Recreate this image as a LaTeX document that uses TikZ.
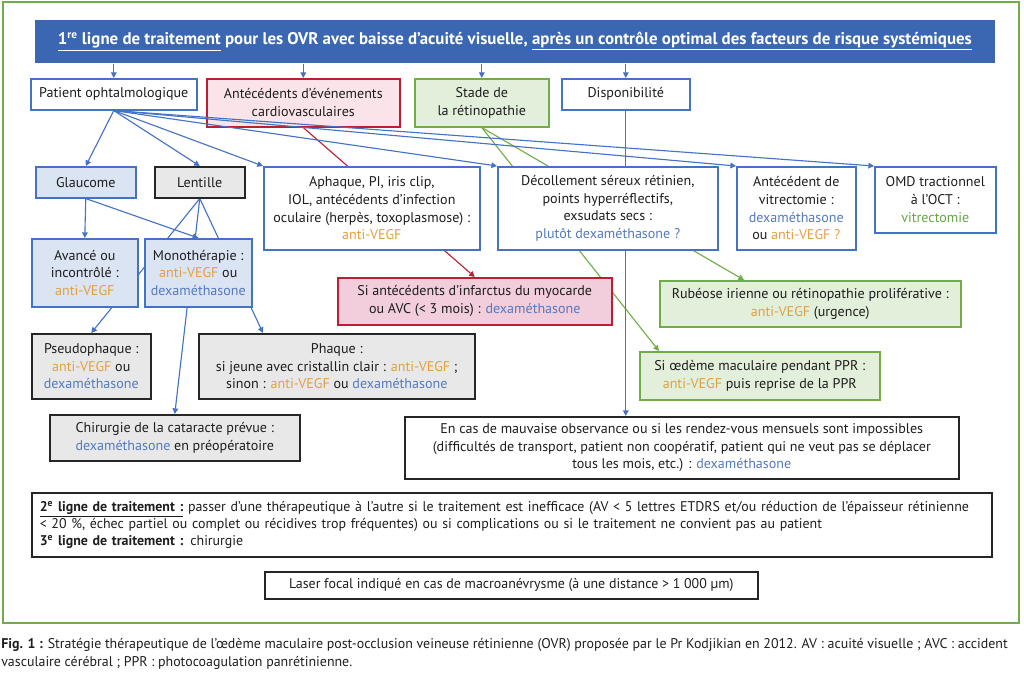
\documentclass[tikz,border=0pt]{standalone}
\usepackage{fontspec}
\setmainfont{PT Sans}
\newfontfamily\narrowfont[FakeStretch=0.99]{PT Sans}
\usetikzlibrary{arrows.meta,backgrounds}

\definecolor{bandblue}{RGB}{59,103,178}
\definecolor{lineblue}{RGB}{68,114,196}
\definecolor{txtblue}{RGB}{84,122,192}
\definecolor{txtorange}{RGB}{228,160,62}
\definecolor{txtgreen}{RGB}{104,165,70}
\definecolor{txtdark}{RGB}{30,30,30}
\definecolor{linered}{RGB}{190,30,50}
\definecolor{linegreen}{RGB}{112,173,71}
\definecolor{fillgreen}{RGB}{226,239,218}
\definecolor{fillblue}{RGB}{219,228,243}
\definecolor{fillgrey}{RGB}{232,232,232}
\definecolor{fillpink}{RGB}{250,228,234}
\definecolor{fillrose}{RGB}{242,205,219}

\newcommand{\pxu}{0.025cm}
\newcommand{\txo}[1]{\textcolor{txtorange}{#1}}
\newcommand{\txb}[1]{\textcolor{txtblue}{#1}}
\newcommand{\txg}[1]{\textcolor{txtgreen}{#1}}

\tikzset{
  wh/.style 2 args={minimum width=#1*\pxu, minimum height=#2*\pxu},
  basebox/.style={draw, line width=1.1pt, anchor=north west, align=center,
    inner sep=1pt, text=txtdark, font=\fontsize{10}{12.6}\selectfont},
  bluebox/.style={basebox, draw=lineblue, fill=white},
  lbluebox/.style={basebox, draw=lineblue, fill=fillblue},
  greybox/.style={basebox, draw=black!85, fill=fillgrey},
  redbox/.style={basebox, draw=linered, fill=fillpink},
  greenbox/.style={basebox, draw=linegreen, fill=fillgreen},
  bl/.style={draw=lineblue, line width=0.8pt, -{Triangle[length=4pt,width=4pt]}},
  rl/.style={draw=linered, line width=0.8pt, -{Triangle[length=4pt,width=4pt]}},
  gl/.style={draw=linegreen, line width=0.8pt, -{Triangle[length=4pt,width=4pt]}},
}

\begin{document}
\begin{tikzpicture}[x=0.025cm,y=-0.025cm]
    \useasboundingbox (0,0) rectangle (1024,678);
    %% outer frame
    \draw[linegreen, line width=2pt] (3,2) rectangle (1019,623);
    %% title band
    \node[basebox, draw=none, fill=bandblue, text=white, wh={960}{43},
        font=\fontsize{12}{14}\selectfont\bfseries] (banner) at (34,19)
        {\underline{1\textsuperscript{re} ligne de traitement} pour les OVR avec baisse d’acuité visuelle, \underline{après un contrôle optimal des facteurs de risque systémiques}};
    %% first row
    \node[bluebox, wh={166}{31}] (patient) at (30,78) {Patient ophtalmologique};
    \node[redbox, wh={193}{48}] (cardio) at (206,78) {Antécédents d’événements\\cardiovasculaires};
    \node[greenbox, wh={134}{48}] (stade) at (414,78) {Stade de\\la rétinopathie};
    \node[bluebox, wh={128}{31}] (dispo) at (561,78) {Disponibilité};
    \foreach \n in {patient,cardio,stade,dispo}
        \draw[bl] (\n.north |- banner.south) -- (\n.north);
    %% second row
    \node[lbluebox, wh={100}{31}] (glaucome) at (35,166) {Glaucome};
    \node[greybox, wh={90}{31}] (lentille) at (154,166) {Lentille};
    \node[bluebox, wh={216}{83}] (aphaque) at (263,166)
        {Aphaque, PI, iris clip,\\IOL, antécédents d’infection\\oculaire (herpès, toxoplasmose) :\\\txo{anti-VEGF}};
    \node[bluebox, wh={220}{83}] (deco) at (497,166)
        {Décollement séreux rétinien,\\points hyperréflectifs,\\exsudats secs :\\\txb{plutôt dexaméthasone ?}};
    \node[bluebox, wh={119}{83}] (vitrec) at (736,166)
        {Antécédent de\\vitrectomie :\\\txb{dexaméthasone}\\ou \txo{anti-VEGF ?}};
    \node[bluebox, wh={121}{66}] (omd) at (874,166) {OMD tractionnel\\à l’OCT :\\\txg{vitrectomie}};
    %% third row
    \node[lbluebox, wh={106}{68}] (avance) at (31,238) {Avancé ou\\incontrôlé :\\\txo{anti-VEGF}};
    \node[lbluebox, wh={107}{68}] (mono) at (144,238) {Monothérapie :\\\txo{anti-VEGF} ou\\\txb{dexaméthasone}};
    \node[redbox, fill=fillrose, wh={274}{47}] (infarct) at (337,277)
        {Si antécédents d’infarctus du myocarde\\ou AVC (< 3 mois) : \txb{dexaméthasone}};
    \node[greenbox, wh={301}{46}] (rubeose) at (659,280)
        {Rubéose irienne ou rétinopathie proliférative :\\\txo{anti-VEGF} (urgence)};
    %% fourth row
    \node[greybox, wh={119}{65}] (pseudo) at (31,333) {Pseudophaque :\\\txo{anti-VEGF} ou\\\txb{dexaméthasone}};
    \node[greybox, wh={276}{65}] (phaque) at (198,333)
        {Phaque :\\si jeune avec cristallin clair : \txo{anti-VEGF} ;\\sinon : \txo{anti-VEGF} ou \txb{dexaméthasone}};
    \node[greenbox, wh={240}{48}] (oedeme) at (639,351)
        {Si œdème maculaire pendant PPR :\\\txo{anti-VEGF} puis reprise de la PPR};
    \node[greybox, wh={250}{46}] (chir) at (49,414)
        {Chirurgie de la cataracte prévue :\\\txb{dexaméthasone} en préopératoire};
    \node[basebox, draw=black!85, fill=white, wh={554}{62}] (encas) at (404,416)
        {En cas de mauvaise observance ou si les rendez-vous mensuels sont impossibles\\(difficultés de transport, patient non coopératif, patient qui ne veut pas se déplacer\\tous les mois, etc.) : \txb{dexaméthasone}};
    %% lines going behind the boxes
    \begin{scope}[on background layer]
        \draw[rl] (cardio.south) -- (infarct.north);
        \draw[gl] (stade.south) -- ([xshift=20*\pxu]oedeme.north west);
        \draw[gl] (stade.south) -- ([xshift=85*\pxu]rubeose.north west);
        \draw[bl] (dispo.south) -- (dispo.south |- encas.north);
        \draw[bl] (lentille.south) -- (pseudo.north);
        \draw[bl] (lentille.south) -- (chir.north);
        \draw[bl] (lentille.south) -- ([xshift=65*\pxu]phaque.north west);
    \end{scope}
    %% lines from the patient box
    \foreach \t/\a in {glaucome/north,lentille/north,aphaque/north west,deco/north west,vitrec/north west,omd/north west}
        \draw[bl] (patient.south) -- (\t.\a);
    \draw[bl] (glaucome.south) -- (avance.north);
    \draw[bl] (glaucome.south) -- (mono.north);
    %% second and third line
    \node[basebox, draw=black!85, fill=white, wh={960}{64}, align=left,
        text width=944*\pxu, inner xsep=8*\pxu,
        font=\narrowfont\fontsize{10}{12.1}\selectfont] (ligne2) at (31,492)
        {\textbf{\underline{2\textsuperscript{e} ligne de traitement :}} passer d’une thérapeutique à l’autre si le traitement est inefficace (AV < 5 lettres ETDRS et/ou réduction de l’épaisseur rétinienne\\
        < 20~\%, échec partiel ou complet ou récidives trop fréquentes) ou si complications ou si le traitement ne convient pas au patient\\
        \textbf{3\textsuperscript{e} ligne de traitement :} chirurgie};
    \node[basebox, draw=black!85, fill=white, wh={493}{27},
        font=\narrowfont\fontsize{10}{12.1}\selectfont] (laser) at (264,571)
        {Laser focal indiqué en cas de macroanévrysme (à une distance > 1~000~µm)};
    %% caption
    \node[anchor=north west, align=left, inner sep=0pt, text=txtdark,
        font=\narrowfont\fontsize{10}{12.8}\selectfont] (caption) at (1,638)
        {\textbf{Fig. 1 :} Stratégie thérapeutique de l’œdème maculaire post-occlusion veineuse rétinienne (OVR) proposée par le Pr Kodjikian en 2012. AV : acuité visuelle ; AVC : accident\\
        vasculaire cérébral ; PPR : photocoagulation panrétinienne.};
\end{tikzpicture}
\end{document}
